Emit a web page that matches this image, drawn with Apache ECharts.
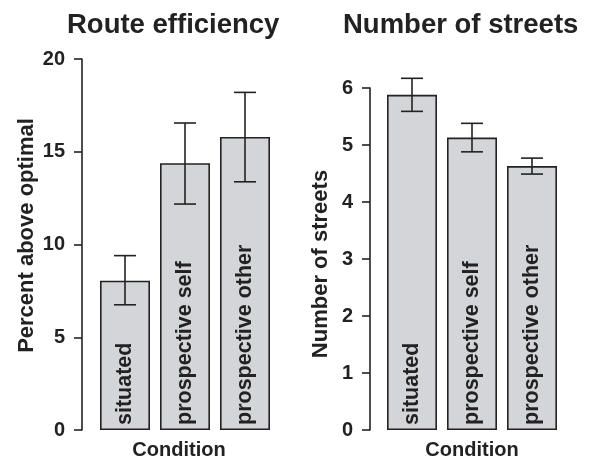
<!DOCTYPE html>
<html>
<head>
<meta charset="utf-8">
<script src="https://cdn.jsdelivr.net/npm/echarts@6/dist/echarts.min.js"></script>
<style>
  html, body { margin: 0; padding: 0; background: #fff; }
  #main { width: 592px; height: 460px; }
</style>
</head>
<body>
<div id="main"></div>
<script>
// data
var conditions = ['situated', 'prospective self', 'prospective other'];

var routeMean = [8.05, 14.38, 15.8];
var routeLow = [6.75, 12.18, 13.38];
var routeHigh = [9.4, 16.55, 18.2];

var streetMean = [5.88, 5.13, 4.63];
var streetLow = [5.59, 4.88, 4.49];
var streetHigh = [6.17, 5.38, 4.77];

var FONT = '"Liberation Sans", Arial, sans-serif';
var INK = '#222';
var FILL = '#d4d5d9';

function errData(low, high) {
    return low.map(function (l, i) { return [i, l, high[i]]; });
}

function errorBars(api) {
    var x = api.value(0);
    var lo = api.coord([x, api.value(1)]);
    var hi = api.coord([x, api.value(2)]);
    var half = 11;
    var style = {stroke: INK, lineWidth: 1.6};
    return {
        type: 'group',
        children: [
            {type: 'line', shape: {x1: lo[0], y1: lo[1], x2: hi[0], y2: hi[1]}, style: style},
            {type: 'line', shape: {x1: lo[0] - half, y1: lo[1], x2: lo[0] + half, y2: lo[1]}, style: style},
            {type: 'line', shape: {x1: hi[0] - half, y1: hi[1], x2: hi[0] + half, y2: hi[1]}, style: style}
        ]
    };
}

function xAxis(gridIndex, pad) {
    return {
        type: 'category',
        gridIndex: gridIndex,
        data: conditions,
        axisLine: {show: false},
        axisTick: {show: false},
        axisLabel: {show: false},
        name: 'Condition',
        nameLocation: 'middle',
        nameGap: 10,
        nameTextStyle: {fontFamily: FONT, fontWeight: 'bold', fontSize: 20, color: INK,
                        verticalAlign: 'top', padding: pad}
    };
}

function yAxis(gridIndex, max, interval, name, gap, offset, pad) {
    return {
        type: 'value',
        gridIndex: gridIndex,
        min: 0,
        max: max,
        interval: interval,
        offset: offset,
        name: name,
        nameLocation: 'middle',
        nameGap: gap,
        nameTextStyle: {fontFamily: FONT, fontWeight: 'bold', fontSize: 22, color: INK, padding: pad},
        splitLine: {show: false},
        axisLine: {show: true, lineStyle: {color: INK, width: 1.6}},
        axisTick: {show: true, length: 8, lineStyle: {color: INK, width: 1.6}},
        axisLabel: {fontFamily: FONT, fontWeight: 'bold', fontSize: 20, color: INK, margin: 17}
    };
}

function barSeries(idx, values) {
    return {
        type: 'bar',
        xAxisIndex: idx,
        yAxisIndex: idx,
        data: values,
        barWidth: 50,
        itemStyle: {color: FILL, borderColor: INK, borderWidth: 1.6},
        label: {
            show: true,
            formatter: '{b}',
            position: 'insideBottom',
            distance: 5,
            rotate: 90,
            align: 'left',
            verticalAlign: 'middle',
            fontFamily: FONT,
            fontWeight: 'bold',
            fontSize: 21.5,
            color: INK
        },
        silent: true
    };
}

function errSeries(idx, low, high) {
    return {
        type: 'custom',
        xAxisIndex: idx,
        yAxisIndex: idx,
        data: errData(low, high),
        renderItem: function (params, api) { return errorBars(api); },
        z: 5,
        silent: true
    };
}

var chart = echarts.init(document.getElementById('main'), null, {renderer: 'canvas'});
chart.setOption({
    backgroundColor: '#fff',
    animation: false,
    title: [
        {text: 'Route efficiency', left: 67, top: 11, padding: 0,
         textStyle: {fontFamily: FONT, fontWeight: 'bold', fontSize: 27.5, color: INK}},
        {text: 'Number of streets', left: 343, top: 11, padding: 0,
         textStyle: {fontFamily: FONT, fontWeight: 'bold', fontSize: 27.5, color: INK}}
    ],
    grid: [
        {left: 95, top: 59, width: 180, height: 371, outerBoundsMode: 'none'},
        {left: 382, top: 88, width: 180, height: 342, outerBoundsMode: 'none'}
    ],
    xAxis: [xAxis(0, [0, 12, 0, 0]), xAxis(1, 0)],
    yAxis: [
        yAxis(0, 20, 5, 'Percent above optimal', 44, 13, [0, 0, 0, 18]),
        yAxis(1, 6, 1, 'Number of streets', 38, 12, [0, 10, 0, 0])
    ],
    series: [
        barSeries(0, routeMean),
        errSeries(0, routeLow, routeHigh),
        barSeries(1, streetMean),
        errSeries(1, streetLow, streetHigh)
    ]
});
</script>
</body>
</html>
